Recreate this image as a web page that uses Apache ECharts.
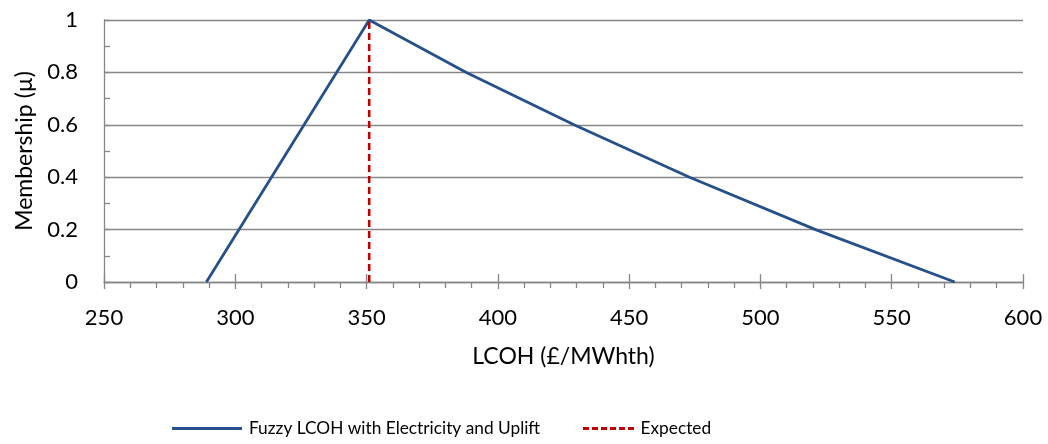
<!DOCTYPE html>
<html><head><meta charset="utf-8">
<script src="https://cdn.jsdelivr.net/npm/echarts@6/dist/echarts.min.js"></script>
<style>html,body{margin:0;padding:0;background:#fff}#c{width:1048px;height:444px}</style>
</head><body><div id="c"></div>
<script>
const fuzzyX = [289, 351, 388, 429, 473, 521, 574];
const fuzzyY = [0, 1, 0.8, 0.6, 0.4, 0.2, 0];
const expectedX = [351, 351];
const expectedY = [0, 1];
const seriesNames = ['Fuzzy LCOH with Electricity and Uplift', 'Expected'];
const xTitle = 'LCOH (£/MWhth)';
const yTitle = 'Membership (µ)';

const FONT = 'Lato';
const AX = '#868686';
const BLUE = '#26508A';
const RED = '#C00000';
const chart = echarts.init(document.getElementById('c'));
const zip = (a, b) => a.map((v, i) => [v, b[i]]);
let dashPath = 'path://';
for (let i = 0; i < 6; i++) dashPath += 'M' + (i * 9) + ',0h6v3h-6z';
chart.setOption({
  animation: false,
  textStyle: { fontFamily: FONT },
  grid: { left: 104, right: 25, top: 20, bottom: 162 },
  legend: [{
    top: 420, left: 172, padding: 0, itemWidth: 70, itemHeight: 3, itemGap: 0,
    textStyle: { fontFamily: FONT, fontSize: 17.3, color: '#000', padding: [0, 0, 0, 2] },
    data: [{ name: seriesNames[0], icon: 'rect' }]
  }, {
    top: 420, left: 583, padding: 0, itemWidth: 52, itemHeight: 3, itemGap: 0,
    textStyle: { fontFamily: FONT, fontSize: 17.3, color: '#000', padding: [0, 0, 0, 1] },
    data: [{ name: seriesNames[1], icon: dashPath }]
  }],
  xAxis: [{
    type: 'value', min: 250, max: 600, interval: 50,
    name: xTitle, nameLocation: 'middle', nameGap: 63,
    nameTextStyle: { fontFamily: FONT, fontSize: 23, color: '#000' },
    axisLine: { show: true, lineStyle: { color: AX, width: 1.3 } },
    axisTick: { show: true, length: 7, lineStyle: { color: AX, width: 1.3 } },
    minorTick: { show: true, splitNumber: 5, length: 6, lineStyle: { color: AX, width: 1.3 } },
    axisLabel: { fontFamily: FONT, fontSize: 22, color: '#000', margin: 25 },
    splitLine: { show: false }
  }, {
    type: 'value', min: 250, max: 600, interval: 50, position: 'bottom',
    axisLine: { show: false },
    axisTick: { show: true, inside: true, length: 8, lineStyle: { color: AX, width: 1.3 } },
    axisLabel: { show: false }, splitLine: { show: false }
  }],
  yAxis: {
    type: 'value', min: 0, max: 1, interval: 0.2,
    name: yTitle, nameLocation: 'middle', nameGap: 68, nameRotate: 90,
    nameTextStyle: { fontFamily: FONT, fontSize: 23, color: '#000' },
    axisLine: { show: true, lineStyle: { color: AX, width: 1.3 } },
    axisTick: { show: true, inside: true, length: 6, lineStyle: { color: AX, width: 1.3 } },
    minorTick: { show: true, splitNumber: 2, length: 6, lineStyle: { color: AX, width: 1.3 } },
    axisLabel: { fontFamily: FONT, fontSize: 22, color: '#000', margin: 26,
      formatter: v => String(+v.toFixed(1)) },
    splitLine: { show: true, lineStyle: { color: AX, width: 1.3 } }
  },
  series: [{
    name: seriesNames[0], type: 'line', data: zip(fuzzyX, fuzzyY),
    symbol: 'none', lineStyle: { color: BLUE, width: 2.8 }, itemStyle: { color: BLUE }, z: 3
  }, {
    name: seriesNames[1], type: 'line', data: zip(expectedX, expectedY),
    symbol: 'none', lineStyle: { color: RED, width: 2.6, type: [7, 4] }, itemStyle: { color: RED }, z: 4
  }]
});
</script></body></html>
